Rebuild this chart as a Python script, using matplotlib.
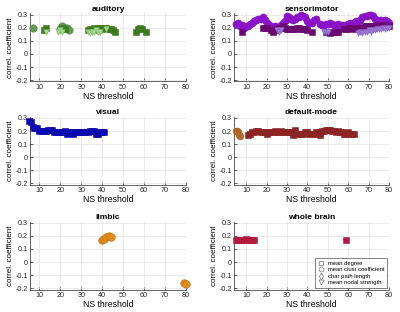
import matplotlib.pyplot as plt
from matplotlib.lines import Line2D

plt.rcParams['font.family'] = ['Liberation Sans', 'DejaVu Sans']

# auditory
aud_circ_x = [7, 20, 21, 22, 23, 24, 38]
aud_circ_y = [0.20, 0.19, 0.21, 0.20, 0.20, 0.18, 0.18]
aud_sq_x = [12, 13, 21, 22, 33, 34, 35, 36, 37, 38, 39, 40, 41, 42, 43, 44, 45, 46, 56, 57, 58, 59, 61]
aud_sq_y = [0.18, 0.20, 0.20, 0.19, 0.18, 0.19, 0.18, 0.20, 0.19, 0.20, 0.20, 0.19, 0.20, 0.20, 0.19,
            0.19, 0.18, 0.17, 0.17, 0.19, 0.20, 0.19, 0.17]
aud_tri_x = [13, 19, 20, 21, 33, 34, 35, 36, 37, 38, 39, 42]
aud_tri_y = [0.17, 0.17, 0.18, 0.17, 0.17, 0.16, 0.17, 0.17, 0.18, 0.17, 0.17, 0.19]

# sensorimotor
sm_circ_x = list(range(5, 45)) + list(range(46, 81))
sm_circ_y = [0.23, 0.24, 0.21, 0.22, 0.20, 0.21, 0.21, 0.23, 0.24, 0.25, 0.26, 0.27, 0.27, 0.28, 0.26,
             0.24, 0.22, 0.21, 0.20, 0.21, 0.20, 0.20, 0.22, 0.24, 0.25, 0.29, 0.28, 0.27, 0.26, 0.27,
             0.28, 0.28, 0.30, 0.29, 0.28, 0.25, 0.24, 0.24, 0.26, 0.27,
             0.23, 0.22, 0.22, 0.23, 0.23, 0.24, 0.23, 0.22, 0.22, 0.23, 0.21, 0.22, 0.21, 0.22, 0.23,
             0.24, 0.23, 0.24, 0.25, 0.24, 0.26, 0.28, 0.29, 0.29, 0.30, 0.30, 0.29, 0.27, 0.26, 0.25,
             0.26, 0.25, 0.26, 0.25, 0.24]
sm_sq_x = [8, 18, 19, 20, 22, 23, 24] + list(range(25, 41)) + [42] + list(range(49, 56)) + list(range(58, 81))
sm_sq_y = [0.17, 0.20, 0.20, 0.20, 0.18, 0.17, 0.18,
           0.19, 0.20, 0.20, 0.21, 0.20, 0.19, 0.19, 0.19, 0.19, 0.19, 0.20, 0.20, 0.19, 0.19, 0.19, 0.18,
           0.17,
           0.17, 0.17, 0.16, 0.17, 0.17, 0.17, 0.17,
           0.19, 0.19, 0.20, 0.19, 0.20, 0.20, 0.19, 0.20, 0.20, 0.20, 0.21, 0.21, 0.21, 0.21, 0.20,
           0.21, 0.21, 0.22, 0.21, 0.21, 0.22, 0.21, 0.21]
sm_tri_x = [25, 26, 27, 48, 49, 50] + list(range(65, 81))
sm_tri_y = [0.18, 0.17, 0.18, 0.17, 0.17, 0.17,
            0.16, 0.17, 0.16, 0.17, 0.17, 0.18, 0.17, 0.18, 0.18, 0.19, 0.19, 0.19, 0.20, 0.19, 0.20, 0.20]

# visual
vis_x = list(range(5, 42))
vis_y = [0.28, 0.27, 0.23, 0.22, 0.22, 0.20, 0.20, 0.20, 0.20, 0.21, 0.21, 0.21, 0.19, 0.19, 0.19,
         0.19, 0.19, 0.20, 0.18, 0.19, 0.19, 0.18, 0.19, 0.19, 0.19, 0.19, 0.19, 0.19, 0.19, 0.20,
         0.20, 0.20, 0.18, 0.18, 0.19, 0.19, 0.19]

# default-mode
dm_circ_x = [5, 5.5, 6, 6.5, 7]
dm_circ_y = [0.20, 0.20, 0.19, 0.17, 0.16]
dm_sq_x = list(range(11, 64))
dm_sq_y = [0.17, 0.18, 0.19, 0.19, 0.20, 0.20, 0.19, 0.19, 0.19, 0.18, 0.19, 0.19, 0.19, 0.20, 0.19,
           0.19, 0.20, 0.19, 0.19, 0.19, 0.19, 0.19, 0.17, 0.21, 0.18, 0.18, 0.18, 0.18, 0.19, 0.19,
           0.18, 0.18, 0.18, 0.19, 0.19, 0.17, 0.20, 0.20, 0.21, 0.21, 0.21, 0.20, 0.20, 0.19, 0.20,
           0.19, 0.19, 0.18, 0.18, 0.19, 0.18, 0.18, 0.18]

# limbic
lim_x = [40, 41, 42, 43, 44, 79, 80]
lim_y = [0.17, 0.18, 0.19, 0.20, 0.19, -0.16, -0.17]

# whole brain
wb_x = [5, 6, 7, 8, 9, 10, 11, 12, 13, 14, 59]
wb_y = [0.17, 0.17, 0.17, 0.17, 0.17, 0.18, 0.17, 0.17, 0.17, 0.165, 0.165]

fig = plt.figure(figsize=(4, 3.12), dpi=100)

rows_bottom = [0.739, 0.408, 0.072]
h = 0.218
left_pos = (0.075, 0.39)
right_pos = (0.585, 0.3875)


def make_ax(row, col, title, xmin):
    l, w = left_pos if col == 0 else right_pos
    ax = fig.add_axes([l, rows_bottom[row], w, h])
    ax.set_xlim(xmin, 80)
    ax.set_ylim(-0.21, 0.31)
    ax.set_xticks(range(10, 81, 10))
    ax.set_yticks([-0.2, -0.1, 0, 0.1, 0.2, 0.3])
    ax.set_yticklabels(['-0.2', '-0.1', '0', '0.1', '0.2', '0.3'])
    ax.grid(True, color='#e3e3e3', linewidth=0.5)
    ax.set_axisbelow(True)
    for s in ['top', 'right']:
        ax.spines[s].set_visible(False)
    for s in ['left', 'bottom']:
        ax.spines[s].set_color('#262626')
        ax.spines[s].set_linewidth(0.5)
    ax.tick_params(direction='in', length=2, width=0.5, labelsize=5.2,
                   colors='#262626', pad=1.5)
    ax.set_title(title, fontsize=6, fontweight='bold', pad=2)
    ax.set_xlabel('NS threshold', fontsize=6.2, labelpad=1)
    ax.set_ylabel('correl. coefficient', fontsize=5.8, labelpad=1)
    return ax


def pts(ax, x, y, marker, color, s, ec=None):
    ax.scatter(x, y, marker=marker, s=s, color=color,
               edgecolors=ec if ec else color, linewidths=0.4, clip_on=False, zorder=3)


ax = make_ax(0, 0, 'auditory', 5.5)
pts(ax, aud_circ_x, aud_circ_y, 'o', '#5f9f55', 28, '#4a8040')
pts(ax, aud_sq_x, aud_sq_y, 's', '#3a7a1c', 14)
pts(ax, aud_tri_x, aud_tri_y, 'v', '#a9d88f', 16, '#80b870')

ax = make_ax(0, 1, 'sensorimotor', 4)
pts(ax, sm_circ_x, sm_circ_y, 'o', '#8c12c8', 26)
pts(ax, sm_sq_x, sm_sq_y, 's', '#6a0a70', 14)
pts(ax, sm_tri_x, sm_tri_y, 'v', '#a07ad6', 16, '#8060c0')

ax = make_ax(1, 0, 'visual', 5.5)
pts(ax, vis_x, vis_y, 's', '#0a0ab0', 14)

ax = make_ax(1, 1, 'default-mode', 4)
pts(ax, dm_circ_x, dm_circ_y, 'o', '#b2662c', 24)
pts(ax, dm_sq_x, dm_sq_y, 's', '#8c2424', 14)

ax = make_ax(2, 0, 'limbic', 5.5)
pts(ax, lim_x, lim_y, 'o', '#e08c1e', 30, '#c07010')

ax = make_ax(2, 1, 'whole brain', 4)
pts(ax, wb_x, wb_y, 's', '#b21b3e', 14)

handles = [
    Line2D([], [], marker='s', linestyle='none', markerfacecolor='none', markeredgecolor='#777777', markersize=3, markeredgewidth=0.5),
    Line2D([], [], marker='o', linestyle='none', markerfacecolor='none', markeredgecolor='#777777', markersize=3.5, markeredgewidth=0.5),
    Line2D([], [], marker='d', linestyle='none', markerfacecolor='none', markeredgecolor='#777777', markersize=3.5, markeredgewidth=0.5),
    Line2D([], [], marker='v', linestyle='none', markerfacecolor='none', markeredgecolor='#777777', markersize=3.5, markeredgewidth=0.5),
]
labels = ['mean degree', 'mean clust coefficient', 'char path length', 'mean nodal strength']
leg = ax.legend(handles, labels, loc='lower right', fontsize=4.2, frameon=True, fancybox=False,
                edgecolor='#262626', handlelength=1.2, handletextpad=0.6, borderpad=0.4,
                labelspacing=0.25, borderaxespad=0.3)
leg.get_frame().set_linewidth(0.5)

fig.savefig('out.png', dpi=100)
